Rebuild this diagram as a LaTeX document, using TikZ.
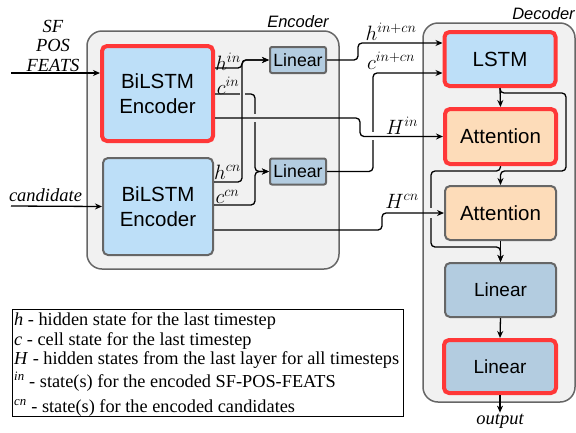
\documentclass[tikz,border=0pt]{standalone}
\usepackage{fontspec}
\setmainfont{Liberation Serif}
\newfontfamily\arialf{Liberation Sans}
\DeclareMathSizes{19.5}{19.5}{14.5}{11}
\usetikzlibrary{arrows.meta,calc}
\definecolor{boxblue}{HTML}{BDDFF8}
\definecolor{boxorange}{HTML}{FDDCB9}
\definecolor{boxlin}{HTML}{B3CCE0}
\definecolor{redb}{HTML}{FF3838}
\definecolor{grayb}{HTML}{666666}
\definecolor{contbg}{HTML}{F1F1F1}
\begin{document}
\begin{tikzpicture}[x=1pt,y=-1pt,
  cont/.style={draw=grayb, fill=contbg, line width=1.5pt, rounded corners=15pt},
  blk/.style={rounded corners=5pt, inner sep=0pt, align=center, font=\arialf\fontsize{20.5}{25}\selectfont},
  redblk/.style={blk, draw=redb, line width=4pt},
  grayblk/.style={blk, draw=grayb, line width=2pt},
  smallin/.style={grayblk, fill=boxlin, minimum width=56pt, minimum height=26pt, rounded corners=2pt, font=\arialf\fontsize{17.7}{20}\selectfont},
  conn/.style={line width=1.3pt, rounded corners=4pt, -{Stealth[length=7pt,width=6pt]}},
  lbl/.style={font=\fontsize{19.5}{19.5}\selectfont, inner sep=0pt},
  itl/.style={font=\itshape\fontsize{18.5}{19.5}\selectfont, inner sep=0pt, align=center},
  grp/.style={font=\arialf\itshape\fontsize{16.5}{18}\selectfont, inner sep=0pt},
  leg/.style={anchor=base west, inner sep=0pt, font=\fontsize{18.3}{20}\selectfont}
]
\useasboundingbox (0,0) rectangle (576,432);

% containers
\draw[cont] (87,31) rectangle (339,269);
\draw[cont] (423,23) rectangle (575,402);
\node[grp] (enclbl) at (298,22) {Encoder};
\node[grp] (declbl) at (543.5,14) {Decoder};

% blocks
\node[redblk, fill=boxblue, minimum width=111pt, minimum height=95pt] (enc1) at (157.5,93.5) {BiLSTM\\Encoder};
\node[grayblk, fill=boxblue, minimum width=110pt, minimum height=97pt] (enc2) at (158,206.5) {BiLSTM\\Encoder};
\node[smallin] (lin1) at (298,60) {Linear};
\node[smallin] (lin2) at (298,171.5) {Linear};
\node[redblk, fill=boxblue, minimum width=111pt, minimum height=54pt] (lstm) at (500,59) {LSTM};
\node[redblk, fill=boxorange, minimum width=111pt, minimum height=55pt] (att1) at (500.5,136.5) {Attention};
\node[grayblk, fill=boxorange, minimum width=111pt, minimum height=54pt] (att2) at (500.5,213) {Attention};
\node[grayblk, fill=boxlin, minimum width=111pt, minimum height=54pt, font=\arialf\fontsize{19}{20}\selectfont] (lin3) at (500.5,290) {Linear};
\node[redblk, fill=boxlin, minimum width=112pt, minimum height=53pt, font=\arialf\fontsize{19}{20}\selectfont] (lin4) at (500,366.5) {Linear};

% inputs / output texts
\node[itl, anchor=base] (sf) at (53,71) {SF\\POS\\FEATS};
\node[itl] (cand) at (45.5,195) {candidate};
\node[itl, inner sep=1pt] (out) at (500,421) {output};
\coordinate (inA) at (11,73);
\coordinate (inB) at (11,206);

% connector labels
\node[lbl] (lhin) at (228,62) {$h^{in}$};
\node[lbl] (lcin) at (228,86) {$c^{in}$};
\node[lbl] (lhcn) at (227.5,172) {$h^{cn}$};
\node[lbl] (lccn) at (227.5,197) {$c^{cn}$};
\node[lbl] (lhic) at (391,32) {$h^{in+cn}$};
\node[lbl] (lcic) at (391,61) {$c^{in+cn}$};
\node[lbl] (lHin) at (402,126) {$H^{in}$};
\node[lbl] (lHcn) at (402,201) {$H^{cn}$};

% inputs
\draw[conn] (inA) -- ([yshift=20.5pt]enc1.west);
\draw[conn] (inB) -- (enc2.west);

% encoder cell-state paths (drawn first, they get the gaps)
\draw[conn] ([yshift=-0.5pt]enc1.east) -| (255,171.5) -- (lin2.west);
\draw[conn] ([yshift=1.5pt]enc2.east) -| (255,171.5) -- (lin2.west);
\draw[conn] (lin2.east) -- (373,171.5) |- ([yshift=-14pt]lstm.west);
\draw[conn] (att1.south) |- (431,171) -- (431,247) -| (lin3.north);

% gaps at crossings
\fill[contbg] (239.5,91) rectangle (244.5,97);
\fill[contbg] (252,114) rectangle (258,122);
\fill[white] (370,132) rectangle (376,140);
\fill[contbg] (428,208) rectangle (434,218);

% hidden-state paths
\draw[conn] ([yshift=25.5pt]enc1.east) -| (242,60) -- (lin1.west);
\draw[conn] ([yshift=24.5pt]enc2.east) -| (242,60) -- (lin1.west);
\draw[conn] ([yshift=-24.5pt]enc1.east) -- (360,118) |- (att1.west);
\draw[conn] ([yshift=-23.5pt]enc2.east) -- (382,230) |- (att2.west);
\draw[conn] (lin1.east) -- (358,60) |- ([yshift=16pt]lstm.west);

% decoder
\draw[conn] (lstm.south) -- (att1.north);
\draw[conn] (lstm.south) |- (566,93) -- (566,171) -| (att2.north);
\draw[conn] (att2.south) -- (lin3.north);
\draw[conn] (lin3.south) -- (lin4.north);
\draw[conn] (lin4.south) -- (out.north);

% legend
\draw[line width=0.8pt] (12.7,309) rectangle (403,416);
\node[leg] (l1) at (14,325) {\textit{h} - hidden state for the last timestep};
\node[leg] (l2) at (14,345) {\textit{c} - cell state for the last timestep};
\node[leg] (l3) at (14,364) {\textit{H} - hidden states from the last layer for all timesteps};
\node[leg] (l4) at (14,387) {\textsuperscript{\textit{in}} - state(s) for the encoded SF-POS-FEATS};
\node[leg] (l5) at (14,412) {\textsuperscript{\textit{cn}} - state(s) for the encoded candidates};
\end{tikzpicture}
\end{document}
